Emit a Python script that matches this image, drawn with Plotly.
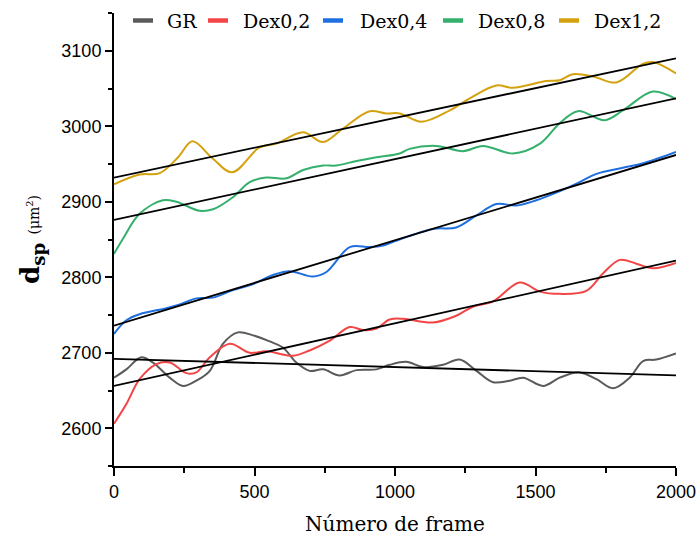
import plotly.graph_objects as go

# ---- data ----
gr_x = [0,44,97,139,198,246,293,341,388,441,495,554,601,649,696,744,803,863,934,981,1040,1100,1171,1230,1290,1349,1408,1456,1527,1586,1657,1717,1776,1835,1883,1930,2000]
gr_y = [2667,2678,2694,2687,2667,2656,2663,2676,2712,2727,2723,2715,2707,2687,2676,2678,2670,2677,2678,2684,2688,2681,2684,2691,2676,2661,2663,2667,2656,2667,2674,2665,2653,2667,2689,2691,2699]

d02_x = [0,44,91,151,198,258,293,341,412,483,542,637,696,768,839,886,934,981,1028,1135,1218,1277,1349,1444,1516,1586,1681,1740,1800,1859,1918,2000]
d02_y = [2606,2632,2665,2685,2687,2673,2674,2694,2712,2700,2702,2696,2703,2716,2734,2730,2732,2744,2745,2740,2749,2761,2768,2793,2781,2778,2782,2805,2823,2818,2812,2819]

d04_x = [0,44,91,186,234,293,352,423,495,566,625,708,756,839,910,957,1000,1135,1218,1290,1361,1432,1503,1574,1646,1717,1811,1883,2000]
d04_y = [2725,2743,2751,2759,2764,2772,2773,2783,2791,2803,2808,2801,2807,2840,2840,2842,2848,2864,2866,2882,2897,2895,2902,2912,2924,2937,2945,2951,2966]

d08_x = [0,32,91,174,222,305,352,423,483,542,614,673,744,791,863,934,1017,1052,1147,1242,1313,1420,1516,1586,1651,1746,1811,1918,2000]
d08_y = [2831,2851,2884,2902,2900,2888,2890,2906,2926,2932,2931,2942,2948,2948,2954,2959,2964,2970,2974,2967,2974,2964,2977,3004,3020,3008,3021,3046,3036]

d12_x = [0,91,163,228,279,352,421,518,578,673,744,815,910,969,1017,1094,1195,1266,1361,1420,1539,1586,1633,1705,1788,1883,1918,2000]
d12_y = [2923,2936,2938,2959,2980,2957,2939,2972,2977,2992,2979,2997,3020,3017,3017,3006,3021,3037,3054,3051,3060,3061,3069,3066,3058,3083,3085,3070]

# linear fits (endpoints at frame 0 and 2000)
fit_x = [0, 2000]
fit_gr = [2692, 2670]
fit_d02 = [2656, 2822]
fit_d04 = [2736, 2962]
fit_d08 = [2876, 3037]
fit_d12 = [2932, 3090]

names = ["GR", "Dex0,2", "Dex0,4", "Dex0,8", "Dex1,2"]
colors = ["#5a5a5a", "#f24545", "#1f6fe0", "#34b06c", "#d4a20f"]
series = [(gr_x, gr_y), (d02_x, d02_y), (d04_x, d04_y), (d08_x, d08_y), (d12_x, d12_y)]
fits = [fit_gr, fit_d02, fit_d04, fit_d08, fit_d12]

# plot area geometry (pixels)
W, H = 698, 542
ML, MR, MT, MB = 114, 22, 13, 76
PW, PH = W - ML - MR, H - MT - MB

def px_x(p):
    return (p - ML) / PW

def px_y(p):
    return (H - MB - p) / PH

fig = go.Figure()
for (xs, ys), n, c in zip(series, names, colors):
    fig.add_trace(go.Scatter(x=xs, y=ys, mode="lines", name=n, showlegend=False,
                             line=dict(color=c, width=2, shape="spline", smoothing=1.0)))
for f in fits:
    fig.add_trace(go.Scatter(x=fit_x, y=f, mode="lines", showlegend=False,
                             line=dict(color="black", width=1.8), hoverinfo="skip"))

# legend drawn as shapes + annotations
leg_sym = [133, 208, 323, 443, 559]
leg_txt = [165, 241, 358, 476, 592]
shapes = []
annos = []
for n, c, s, t in zip(names, colors, leg_sym, leg_txt):
    shapes.append(dict(type="line", xref="paper", yref="paper",
                       x0=px_x(s), x1=px_x(s + 20), y0=px_y(20.5), y1=px_y(20.5),
                       line=dict(color=c, width=4.5)))
    annos.append(dict(text=n, xref="paper", yref="paper", x=px_x(t), y=px_y(21),
                      xanchor="left", yanchor="middle", showarrow=False,
                      font=dict(family="DejaVu Serif", size=19, color="black")))

fig.update_layout(
    width=W, height=H,
    margin=dict(l=ML, r=MR, t=MT, b=MB, autoexpand=False),
    plot_bgcolor="white", paper_bgcolor="white",
    showlegend=False, shapes=shapes, annotations=annos,
)
fig.update_xaxes(
    range=[0, 2000], showgrid=False, zeroline=False,
    showline=True, linecolor="black", linewidth=2,
    ticks="outside", ticklen=8, tickwidth=2, tickcolor="black",
    tickvals=[0, 500, 1000, 1500, 2000],
    tickfont=dict(family="Liberation Sans", size=18, color="black"),
    minor=dict(ticks="outside", ticklen=5, tickwidth=2, tickcolor="black", dtick=250),
    title=dict(text="Número de frame", font=dict(family="DejaVu Serif", size=20, color="black"), standoff=16),
)
fig.update_yaxes(
    range=[2550, 3150], showgrid=False, zeroline=False,
    showline=True, linecolor="black", linewidth=2,
    ticks="outside", ticklen=7, tickwidth=2, tickcolor="black",
    tickvals=[2600, 2700, 2800, 2900, 3000, 3100],
    tickfont=dict(family="Liberation Sans", size=18, color="black"),
    minor=dict(ticks="outside", ticklen=4, tickwidth=2, tickcolor="black", dtick=50),
    title=dict(text="<b>d<sub>sp</sub></b> <span style='font-size:14px'>(μm<sup>2</sup>)</span>",
               font=dict(family="DejaVu Serif", size=26, color="black"), standoff=14),
)
fig.write_html("out.html")
